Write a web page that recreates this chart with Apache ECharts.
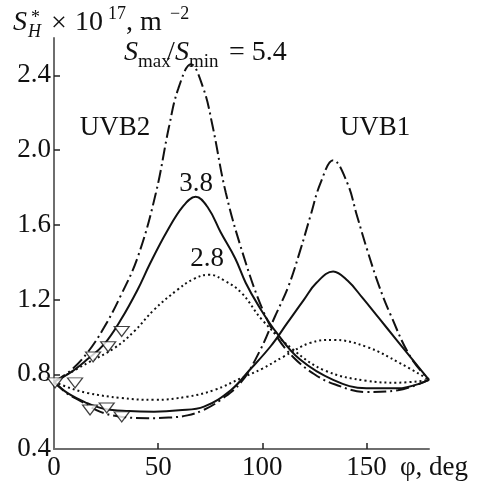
<!DOCTYPE html>
<html>
<head>
<meta charset="utf-8">
<script src="https://cdn.jsdelivr.net/npm/echarts@6/dist/echarts.min.js"></script>
<style>
html,body{margin:0;padding:0;background:#fff;}
#chart{width:480px;height:487px;}
</style>
</head>
<body>
<div id="chart"></div>
<script>
// ---- data (phi in degrees, S*_H x 1e17 m^-2) ----
var xTicks = [0, 50, 100, 150];
var yTicks = [0.4, 0.8, 1.2, 1.6, 2.0, 2.4];

var uvb2_54_x = [0, 8, 16, 24, 32, 40.3, 48.9, 55.3, 59.7, 65.7, 71.7, 76.1, 82.5, 91.1, 100, 107, 115, 125, 135, 150, 165, 180];
var uvb2_54_y = [0.76, 0.82, 0.915, 1.05, 1.22, 1.43, 1.77, 2.13, 2.33, 2.46, 2.33, 2.13, 1.77, 1.43, 1.15, 1.0, 0.89, 0.80, 0.745, 0.705, 0.715, 0.77];

var uvb2_38_x = [0, 8, 16, 24, 32, 40, 46, 54, 62, 68, 74, 80, 87, 92, 98, 107, 118, 134, 150, 165, 180];
var uvb2_38_y = [0.76, 0.81, 0.88, 0.96, 1.09, 1.25, 1.39, 1.56, 1.70, 1.75, 1.69, 1.56, 1.42, 1.29, 1.17, 1.02, 0.88, 0.77, 0.725, 0.725, 0.77];

var uvb2_28_x = [0, 16, 29, 38.5, 48, 59, 67, 74.5, 82, 90, 100, 115, 130, 150, 165, 180];
var uvb2_28_y = [0.76, 0.86, 0.94, 1.03, 1.145, 1.25, 1.31, 1.333, 1.30, 1.236, 1.09, 0.93, 0.82, 0.765, 0.755, 0.77];

var uvb1_54_x = [0, 6, 13, 22, 32, 45, 55, 64, 72, 80, 90, 99, 106, 112.5, 118.3, 123, 128, 134, 140.7, 145.5, 150.3, 155.8, 161.5, 171, 180];
var uvb1_54_y = [0.76, 0.70, 0.655, 0.60, 0.573, 0.565, 0.568, 0.58, 0.61, 0.663, 0.76, 0.93, 1.108, 1.27, 1.467, 1.644, 1.826, 1.946, 1.826, 1.646, 1.467, 1.28, 1.12, 0.895, 0.77];

var uvb1_38_x = [0, 6.4, 15, 24, 36, 48, 60, 72, 85, 94, 104, 112, 120, 126, 134, 141, 148, 156, 164, 172, 180];
var uvb1_38_y = [0.76, 0.70, 0.65, 0.615, 0.603, 0.60, 0.607, 0.627, 0.716, 0.824, 0.95, 1.075, 1.2, 1.29, 1.35, 1.30, 1.21, 1.10, 0.99, 0.88, 0.77];

var uvb1_28_x = [0, 8, 16, 32, 48, 64, 77, 90, 100, 110, 123, 134, 150, 166, 180];
var uvb1_28_y = [0.76, 0.725, 0.70, 0.673, 0.663, 0.68, 0.716, 0.78, 0.83, 0.893, 0.968, 0.984, 0.947, 0.86, 0.77];

var tri_x = [0.5, 10.1, 18.75, 26, 32.5, 17.3, 25.3, 32.5];
var tri_y = [0.754, 0.754, 0.893, 0.947, 1.029, 0.609, 0.62, 0.572];

function pairs(xs, ys) { return xs.map(function (x, i) { return [x, ys[i]]; }); }

var FONT = '"Liberation Serif", "Times New Roman", serif';
var FS = 27;
var AXC = '#6e6e6e';
var DASHDOT = [13, 4, 2, 4];
var DOT = [2, 3];

function lineSeries(xs, ys, type) {
  return {
    type: 'line', data: pairs(xs, ys), smooth: 0.4,
    showSymbol: false, silent: true,
    lineStyle: { color: '#111', width: 2, type: type }, z: 3
  };
}

function txt(str, x, y, size, italic, align) {
  return {
    type: 'text', x: x, y: y, silent: true,
    style: {
      text: str, fill: '#111', align: align || 'left', verticalAlign: 'middle',
      font: (italic ? 'italic ' : '') + size + 'px ' + FONT
    }
  };
}

var chart = echarts.init(document.getElementById('chart'));
chart.setOption({
  animation: false,
  backgroundColor: '#fff',
  grid: { left: 54, right: 51, top: 38, bottom: 38, containLabel: false },
  xAxis: {
    type: 'value', min: 0, max: 180, interval: 50,
    axisLine: { show: true, lineStyle: { color: AXC, width: 2 } },
    axisTick: { show: true, inside: true, length: 6, customValues: [50, 100, 150], lineStyle: { color: '#222', width: 1.5 } },
    axisLabel: { customValues: xTicks, margin: 5, fontFamily: FONT, fontSize: FS, color: '#111' },
    splitLine: { show: false }
  },
  yAxis: {
    type: 'value', min: 0.4, max: 2.6, interval: 0.4,
    axisLine: { show: true, lineStyle: { color: AXC, width: 2 } },
    axisTick: { show: true, inside: true, length: 6, customValues: [0.8, 1.2, 1.6, 2.0, 2.4], lineStyle: { color: '#222', width: 1.5 } },
    axisLabel: { customValues: yTicks, margin: 3, fontFamily: FONT, fontSize: FS, color: '#111',
      formatter: function (v) { return v.toFixed(1); } },
    splitLine: { show: false }
  },
  series: [
    lineSeries(uvb2_54_x, uvb2_54_y, DASHDOT),
    lineSeries(uvb2_38_x, uvb2_38_y, 'solid'),
    lineSeries(uvb2_28_x, uvb2_28_y, DOT),
    lineSeries(uvb1_54_x, uvb1_54_y, DASHDOT),
    lineSeries(uvb1_38_x, uvb1_38_y, 'solid'),
    lineSeries(uvb1_28_x, uvb1_28_y, DOT),
    {
      type: 'scatter', data: pairs(tri_x, tri_y), symbol: 'triangle', symbolRotate: 180,
      symbolSize: [15, 10], silent: true, z: 5,
      itemStyle: { color: '#fff', borderColor: '#111', borderWidth: 1.2 }
    }
  ],
  graphic: [
    // y-axis name: S*_H x 10^17, m^-2
    txt('S', 13, 23, 28, true),
    txt('*', 31, 18, 18, false),
    txt('H', 28, 32, 18, true),
    txt('\u00d7', 51, 24, 28, false),
    txt('10', 75, 23, 28, false),
    txt('17', 108, 14, 18, false),
    txt(', m', 126, 23, 28, false),
    txt('\u22122', 170, 14, 18, false),
    // S_max/S_min = 5.4
    txt('S', 124, 53, 28, true),
    txt('max', 138, 62, 19, false),
    txt('/', 167, 53, 28, false),
    txt('S', 175, 53, 28, true),
    txt('min', 189, 62, 19, false),
    txt('= 5.4', 229, 53, 28, false),
    // curve labels
    txt('UVB2', 115, 128, 27, false, 'center'),
    txt('UVB1', 375, 128, 27, false, 'center'),
    txt('3.8', 196, 184, 27, false, 'center'),
    txt('2.8', 207, 259, 27, false, 'center'),
    // x-axis name
    txt('\u03c6, deg', 400, 468, 27, false)
  ]
});
</script>
</body>
</html>
